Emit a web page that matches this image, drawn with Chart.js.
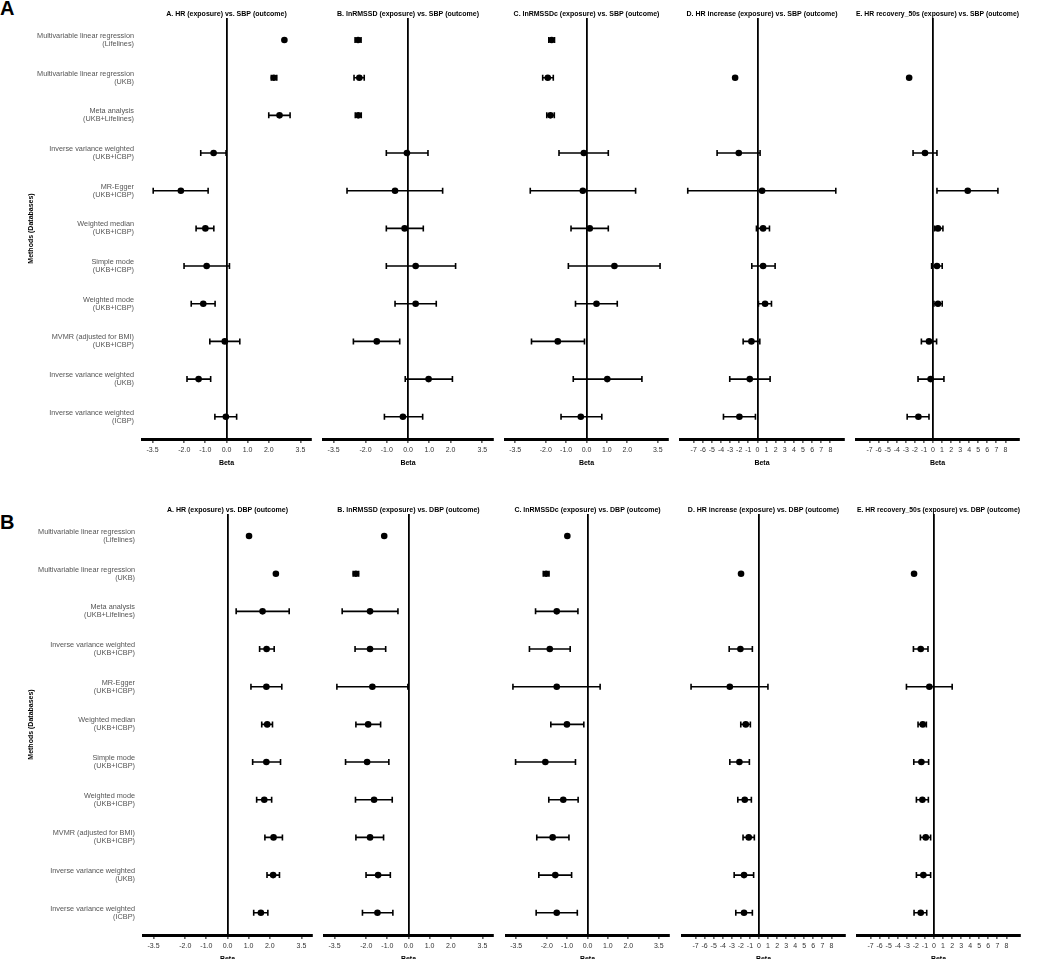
<!DOCTYPE html>
<html>
<head>
<meta charset="utf-8">
<script src="https://cdn.jsdelivr.net/npm/chart.js@4.4.1/dist/chart.umd.min.js"></script>
<style>
  body { margin:0; background:#fff; width:1040px; height:959px; position:relative; overflow:hidden;
         font-family:'Liberation Sans', Arial, sans-serif; }
  .panel { position:absolute; }
  .tag { position:absolute; left:0; font-size:20px; font-weight:bold; line-height:1; color:#000; }
</style>
</head>
<body>
<div class="tag" style="top:-2px">A</div>
<div class="tag" style="top:512px">B</div>
<script>
// ---------- data ----------
const methodLabels = [
  ["Multivariable linear regression", "(Lifelines)"],
  ["Multivariable linear regression", "(UKB)"],
  ["Meta analysis", "(UKB+Lifelines)"],
  ["Inverse variance weighted", "(UKB+ICBP)"],
  ["MR-Egger", "(UKB+ICBP)"],
  ["Weighted median", "(UKB+ICBP)"],
  ["Simple mode", "(UKB+ICBP)"],
  ["Weighted mode", "(UKB+ICBP)"],
  ["MVMR (adjusted for BMI)", "(UKB+ICBP)"],
  ["Inverse variance weighted", "(UKB)"],
  ["Inverse variance weighted", "(ICBP)"]
];
const exposures = ["HR", "lnRMSSD", "lnRMSSDc", "HR increase", "HR recovery_50s"];
const panelLetters = ["A", "B", "C", "D", "E"];
const outcomes = ["SBP", "DBP"];

const ticksNarrow = [-3.5, -2, -1, 0, 1, 2, 3.5];
const ticksWide = [-7, -6, -5, -4, -3, -2, -1, 0, 1, 2, 3, 4, 5, 6, 7, 8];

// SBP outcome
const sbpHrBeta = [2.74, 2.24, 2.51, -0.61, -2.16, -1.00, -0.94, -1.10, -0.08, -1.32, -0.03];
const sbpHrLow  = [null, 2.12, 2.00, -1.22, -3.47, -1.44, -2.01, -1.67, -0.79, -1.87, -0.55];
const sbpHrHigh = [null, 2.38, 3.01, -0.02, -0.87, -0.60, 0.14, -0.54, 0.63, -0.75, 0.48];

const sbpRmssdBeta = [-2.35, -2.29, -2.34, -0.05, -0.61, -0.16, 0.36, 0.36, -1.47, 0.97, -0.24];
const sbpRmssdLow  = [-2.49, -2.54, -2.48, -1.02, -2.87, -1.02, -1.02, -0.61, -2.57, -0.13, -1.11];
const sbpRmssdHigh = [-2.21, -2.06, -2.20, 0.94, 1.63, 0.72, 2.24, 1.33, -0.39, 2.09, 0.69];

const sbpRmssdcBeta = [-1.71, -1.90, -1.77, -0.13, -0.18, 0.16, 1.37, 0.49, -1.41, 1.02, -0.28];
const sbpRmssdcLow  = [-1.85, -2.15, -1.95, -1.35, -2.76, -0.76, -0.89, -0.54, -2.70, -0.65, -1.25];
const sbpRmssdcHigh = [-1.57, -1.63, -1.58, 1.07, 2.41, 1.07, 3.61, 1.51, -0.10, 2.72, 0.75];

const sbpIncBeta = [null, -2.45, null, -2.05, 0.51, 0.62, 0.62, 0.84, -0.66, -0.84, -1.98];
const sbpIncLow  = [null, null, null, -4.43, -7.65, -0.11, -0.62, 0.11, -1.57, -3.04, -3.73];
const sbpIncHigh = [null, null, null, 0.29, 8.60, 1.32, 1.94, 1.54, 0.26, 1.39, -0.22];

const sbpRecBeta = [null, -2.63, null, -0.88, 3.84, 0.55, 0.44, 0.55, -0.44, -0.26, -1.61];
const sbpRecLow  = [null, null, null, -2.20, 0.44, 0.18, -0.15, 0.11, -1.28, -1.65, -2.85];
const sbpRecHigh = [null, null, null, 0.44, 7.17, 1.10, 1.02, 1.02, 0.40, 1.21, -0.44];

// DBP outcome
const dbpHrBeta = [1.02, 2.29, 1.66, 1.85, 1.84, 1.88, 1.84, 1.74, 2.18, 2.16, 1.58];
const dbpHrLow  = [null, null, 0.41, 1.52, 1.11, 1.62, 1.19, 1.38, 1.77, 1.87, 1.24];
const dbpHrHigh = [null, null, 2.92, 2.21, 2.57, 2.13, 2.51, 2.09, 2.60, 2.46, 1.91];

const dbpRmssdBeta = [-1.15, -2.49, -1.82, -1.82, -1.71, -1.91, -1.96, -1.63, -1.82, -1.44, -1.47];
const dbpRmssdLow  = [null, -2.62, -3.14, -2.53, -3.39, -2.49, -2.98, -2.51, -2.49, -2.01, -2.18];
const dbpRmssdHigh = [null, -2.36, -0.50, -1.08, -0.03, -1.32, -0.93, -0.77, -1.18, -0.86, -0.74];

const dbpRmssdcBeta = [-0.99, -2.03, -1.51, -1.85, -1.51, -1.01, -2.07, -1.19, -1.71, -1.58, -1.51];
const dbpRmssdcLow  = [null, -2.17, -2.55, -2.85, -3.66, -1.80, -3.53, -1.90, -2.49, -2.39, -2.52];
const dbpRmssdcHigh = [null, -1.89, -0.47, -0.85, 0.62, -0.18, -0.59, -0.46, -0.91, -0.78, -0.50];

const dbpIncBeta = [null, -1.98, null, -2.05, -3.22, -1.46, -2.16, -1.57, -1.13, -1.65, -1.65];
const dbpIncLow  = [null, null, null, -3.29, -7.50, -2.01, -3.22, -2.34, -1.76, -2.74, -2.56];
const dbpIncHigh = [null, null, null, -0.73, 0.99, -0.95, -1.06, -0.84, -0.51, -0.59, -0.73];

const dbpRecBeta = [null, -2.20, null, -1.46, -0.51, -1.24, -1.39, -1.28, -0.91, -1.17, -1.46];
const dbpRecLow  = [null, null, null, -2.27, -3.04, -1.76, -2.23, -1.94, -1.50, -1.94, -2.20];
const dbpRecHigh = [null, null, null, -0.66, 2.01, -0.84, -0.59, -0.62, -0.37, -0.37, -0.80];

const series = [
  [[sbpHrBeta, sbpHrLow, sbpHrHigh], [sbpRmssdBeta, sbpRmssdLow, sbpRmssdHigh],
   [sbpRmssdcBeta, sbpRmssdcLow, sbpRmssdcHigh], [sbpIncBeta, sbpIncLow, sbpIncHigh],
   [sbpRecBeta, sbpRecLow, sbpRecHigh]],
  [[dbpHrBeta, dbpHrLow, dbpHrHigh], [dbpRmssdBeta, dbpRmssdLow, dbpRmssdHigh],
   [dbpRmssdcBeta, dbpRmssdcLow, dbpRmssdcHigh], [dbpIncBeta, dbpIncLow, dbpIncHigh],
   [dbpRecBeta, dbpRecLow, dbpRecHigh]]
];

// ---------- layout ----------
const rowTop = [11, 507];
const plotH = 421;
const titleH = 7;
const xAxisH = 28;
const plotLeft = [[142, 323, 505, 680, 856], [143, 324, 506, 682, 857]];
const plotRight = [[311, 493, 668, 844, 1019], [312, 493, 669, 845, 1020]];

Chart.defaults.font.family = "'Liberation Sans', Arial, sans-serif";

// horizontal CI whiskers, drawn under the points
const errorBars = {
  id: "errorBars",
  beforeDatasetsDraw(chart){
    const { ctx, scales:{ x, y } } = chart;
    const ds = chart.data.datasets[0];
    ctx.save();
    ctx.strokeStyle = "#000";
    ctx.lineWidth = 1.6;
    ds.lo.forEach((lo, i) => {
      const hi = ds.hi[i];
      if(lo == null || hi == null) return;
      const py = y.getPixelForValue(i + 1);
      const x1 = x.getPixelForValue(lo);
      const x2 = x.getPixelForValue(hi);
      ctx.beginPath();
      ctx.moveTo(x1, py); ctx.lineTo(x2, py);
      ctx.moveTo(x1, py - 3); ctx.lineTo(x1, py + 3);
      ctx.moveTo(x2, py - 3); ctx.lineTo(x2, py + 3);
      ctx.stroke();
    });
    ctx.restore();
  }
};

function buildPanel(r, k){
  const [beta, lo, hi] = series[r][k];
  const pl = plotLeft[r][k], pr = plotRight[r][k];
  const first = k === 0;
  const wide = k >= 3;

  const div = document.createElement("div");
  div.className = "panel";
  const left = first ? 0 : pl - 6;
  const width = first ? pr + 6 : (pr - pl + 12);
  div.style.left = left + "px";
  div.style.top = rowTop[r] + "px";
  div.style.width = width + "px";
  div.style.height = (titleH + plotH + xAxisH) + "px";
  const cv = document.createElement("canvas");
  div.appendChild(cv);
  document.body.appendChild(div);

  const pts = [];
  beta.forEach((b, i) => { if(b != null) pts.push({ x: b, y: i + 1 }); });

  const tickVals = wide ? ticksWide : ticksNarrow;

  const yScale = {
    type: "linear", min: 0.416, max: 11.59, reverse: true, display: first
  };
  if(first){
    Object.assign(yScale, {
      afterBuildTicks: s => { s.ticks = methodLabels.map((_, i) => ({ value: i + 1 })); },
      afterFit: s => { s.width = pl; s.paddingTop = 0; s.paddingBottom = 0; },
      ticks: { autoSkip: false, padding: 8, color: "#555", font: { size: 7.3, lineHeight: 1.1 },
               callback: v => methodLabels[v - 1] },
      grid: { display: false, drawTicks: false },
      border: { display: false },
      title: { display: true, text: "Methods (Databases)", color: "#000",
               font: { size: 7, weight: "bold" }, padding: { top: 27, bottom: 0 } }
    });
  }

  new Chart(cv, {
    type: "scatter",
    data: {
      datasets: [{
        data: pts,
        lo, hi,
        pointRadius: 3.3,
        pointBackgroundColor: "#000",
        pointBorderWidth: 0,
        clip: false
      }]
    },
    options: {
      responsive: true,
      maintainAspectRatio: false,
      animation: false,
      events: [],
      layout: { padding: { left: first ? 0 : 6, right: 6, top: 0, bottom: 0 } },
      plugins: {
        legend: { display: false },
        tooltip: { enabled: false },
        title: {
          display: true,
          text: `${panelLetters[k]}. ${exposures[k]} (exposure) vs. ${outcomes[r]} (outcome)`,
          color: "#000",
          font: { size: 7, weight: "bold", lineHeight: 1 },
          padding: { top: 0, bottom: 0 },
          fullSize: !first
        }
      },
      scales: {
        x: {
          type: "linear",
          min: wide ? -8.5 : -4,
          max: wide ? 9.5 : 4,
          afterBuildTicks: s => { s.ticks = tickVals.map(v => ({ value: v })); },
          afterFit: s => { s.height = xAxisH; },
          ticks: {
            autoSkip: false, maxRotation: 0, minRotation: 0, padding: 3,
            color: "#333", font: { size: 7 },
            callback: v => wide ? String(v) : v.toFixed(1)
          },
          grid: {
            color: c => (c.tick && c.tick.value === 0) ? "#000" : "rgba(0,0,0,0)",
            lineWidth: 1.8,
            tickColor: "#000",
            tickLength: 4,
            tickWidth: 1
          },
          border: { display: true, color: "#000", width: 3 },
          title: { display: true, text: "Beta", color: "#000",
                   font: { size: 7, weight: "bold" }, padding: { top: 1, bottom: 0 } }
        },
        y: yScale
      }
    },
    plugins: [errorBars]
  });
}

for(let r = 0; r < 2; r++){
  for(let k = 0; k < 5; k++) buildPanel(r, k);
}
</script>
</body>
</html>
